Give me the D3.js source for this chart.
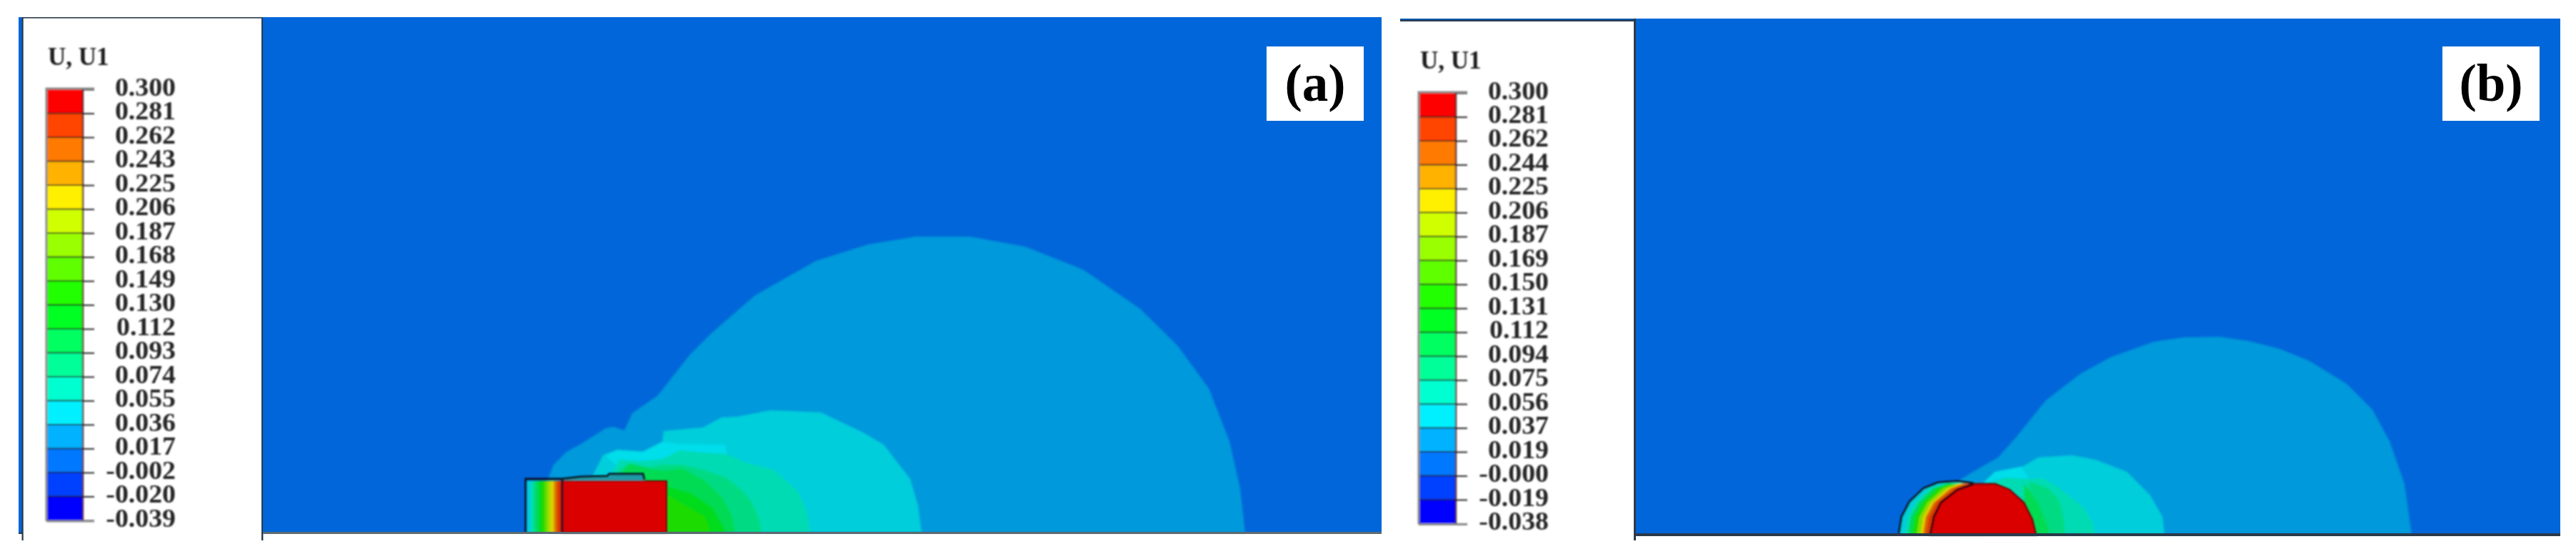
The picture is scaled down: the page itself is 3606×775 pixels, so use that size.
<!DOCTYPE html>
<html>
<head>
<meta charset="utf-8">
<script src="https://cdn.jsdelivr.net/npm/d3@7"></script>
<style>
    html, body { margin: 0; padding: 0; background: #fff; overflow: hidden; }
    svg { display: block; }
    text { font-family: "Liberation Serif", serif; }
</style>
</head>
<body>
<svg id="chart" width="3606" height="775"></svg>
<script>
// --------------------------
// DATA
// --------------------------
const legendTitle = "U, U1";
const labelsA = ["0.300","0.281","0.262","0.243","0.225","0.206","0.187","0.168","0.149","0.130","0.112","0.093","0.074","0.055","0.036","0.017","-0.002","-0.020","-0.039"];
const labelsB = ["0.300","0.281","0.262","0.244","0.225","0.206","0.187","0.169","0.150","0.131","0.112","0.094","0.075","0.056","0.037","0.019","-0.000","-0.019","-0.038"];
const spectrum = ["#ff0000","#ff4500","#ff7a00","#ffb200","#fff000","#d0ff00","#9aff00","#60ff00","#20ff00","#00ff20","#00ff60","#00ff98","#00ffd0","#00f0ff","#00b2ff","#0078ff","#0040ff","#0000ff"];

// contours: displacement level + outline, [distance along surface, height]
const contoursA = [
    { value: 0.027, pts: [[399,75],[407,95],[425,113],[447,125],[480,146],[491,148],[506,143],[517,167],[553,192],[597,248],[627,278],[689,332],[774,380],[847,403],[913,414],[990,414],[1067,400],[1148,368],[1228,313],[1280,262],[1324,202],[1353,128],[1368,62],[1375,0]] },
    { value: 0.045, pts: [[462,80],[476,108],[496,116],[531,113],[559,125],[561,142],[616,147],[642,161],[664,162],[711,171],[781,168],[840,140],[869,123],[906,75],[917,38],[922,0]] },
    { value: 0.065, pts: [[489,83],[499,102],[532,100],[559,103],[584,115],[615,112],[649,110],[675,98],[715,88],[749,58],[762,28],[766,0]] },
    { value: 0.085, pts: [[499,88],[512,97],[539,92],[562,95],[587,95],[615,88],[649,77],[672,58],[685,42],[695,18],[698,0]] },
    { value: 0.10,  pts: [[505,88],[515,96],[545,88],[565,87],[587,90],[619,72],[644,48],[657,22],[661,0]] },
    { value: 0.12,  pts: [[565,65],[599,55],[629,35],[649,0]] },
    { value: 0.14,  pts: [[565,53],[592,38],[619,22],[627,0]] }
];
const brightPatchA = [[479,108],[497,115],[532,113],[559,127],[584,124],[647,123],[650,108],[600,90],[500,90]];

const contoursB = [
    { value: 0.027, pts: [[452,76],[477,91],[507,108],[531,135],[574,188],[622,225],[664,248],[725,270],[767,276],[816,277],[858,271],[901,260],[943,243],[995,211],[1031,175],[1055,131],[1076,71],[1086,0]] },
    { value: 0.045, pts: [[487,73],[503,88],[543,96],[563,108],[610,111],[643,105],[687,88],[720,55],[737,25],[740,0]] },
    { value: 0.065, pts: [[497,71],[517,80],[550,78],[570,79],[593,65],[627,38],[640,15],[643,0]] },
    { value: 0.085, pts: [[550,75],[577,65],[593,48],[599,21],[601,0]] },
    { value: 0.10,  pts: [[543,72],[563,45],[577,11],[578,0]] }
];
const brightPatchB = [[487,73],[503,88],[540,95],[550,78],[517,80]];

// panel (a) block: left part is a stack of narrow bands, right part is the saturated block
const stripA = [[370,0.045],[375,0.065],[379,0.085],[382,0.10],[387,0.12],[390,0.14],[394,0.16],[397,0.18],[400,0.195],[403,0.215],[407,0.235],[409,0.25],[412,0.27],[416,0.29]];
const stripEndA = 419;
const blockA = { x0: 419, x1: 565, top: 72, value: 0.29 };
const stripOutlineA = [[368,0],[368,75],[419,75]];
const stripDividerA = [[419,0],[419,75]];
const liftedA = [[419,75],[445,78],[482,79],[485,82],[532,82],[534,74]];

// panel (b) dome
const domeOuterB = [[368,0],[372,25],[383,46],[403,65],[423,73],[450,75],[473,72]];
const domeInnerB = [[412,0],[417,25],[427,45],[450,63],[473,71],[503,71],[523,63],[543,45],[555,21],[560,0]];
const domeHeights = [0,25,45,65,72];
const domeBands = [
    { value: 0.045, u: [370,374,385,405,428] },
    { value: 0.065, u: [376,380,391,411,433] },
    { value: 0.10,  u: [381,385,396,416,438] },
    { value: 0.14,  u: [387,391,402,423,443] },
    { value: 0.18,  u: [393,397,408,430,450] },
    { value: 0.215, u: [398,402,413,436,455] },
    { value: 0.25,  u: [402,406,417,441,460] },
    { value: 0.27,  u: [406,410,421,446,465] }
];

// --------------------------
// SETUP
// --------------------------
const svg = d3.select("#chart");
const defs = svg.append("defs");
[["soft", 0.9], ["softer", 1.6]].forEach(([id, dev]) => {
    defs.append("filter").attr("id", id)
        .attr("x", "-5%").attr("y", "-5%").attr("width", "110%").attr("height", "110%")
        .append("feGaussianBlur").attr("stdDeviation", dev);
});

const LINE_DARK = "#2b3a4a";
const BLOCK_EDGE = "#7a0000";
const SHADE = 0.86; // the contour plot is lit, so colours are darker than on the legend

// band colour from a displacement value, thresholds are the legend ticks
const bandColor = d3.scaleThreshold()
    .domain(labelsA.map(Number).slice().reverse().slice(1, -1))
    .range(spectrum.slice().reverse());

function lit(value, shade = SHADE) {
    const c = d3.rgb(bandColor(value));
    return d3.rgb(c.r * shade, c.g * shade, c.b * shade).formatHex();
}

// --------------------------
// LEGEND
// --------------------------
function drawLegend(labels, barX0, barX1, barTop, barBottom, titleY) {
    const g = svg.append("g").attr("filter", "url(#soft)");
    const y = d3.scalePoint().domain(labels).range([barTop, barBottom]);

    g.append("text")
        .attr("x", barX0 + 1).attr("y", titleY)
        .attr("font-size", 35).attr("font-weight", "bold").attr("fill", "#1c1c1c")
        .text(legendTitle);

    g.selectAll("rect.band")
        .data(spectrum)
        .enter().append("rect")
        .attr("class", "band")
        .attr("x", barX0).attr("width", barX1 - barX0)
        .attr("y", (d, i) => y(labels[i]))
        .attr("height", (d, i) => y(labels[i + 1]) - y(labels[i]))
        .attr("fill", d => d);

    const axis = g.append("g")
        .attr("transform", `translate(${barX1},0)`)
        .call(d3.axisRight(y).tickSize(17).tickPadding(0));
    axis.select(".domain").remove();
    axis.selectAll("line").attr("stroke", "#3d3d3d").attr("stroke-width", 2.2);
    // the labels in the original are slightly stretched sideways
    axis.selectAll("text")
        .attr("x", 131).attr("dy", 8)
        .attr("text-anchor", "end")
        .attr("font-family", '"Liberation Serif", serif')
        .attr("font-size", 35).attr("font-weight", "bold").attr("fill", "#262626")
        .each(function () {
            d3.select(this)
                .attr("textLength", this.getComputedTextLength() * 1.08)
                .attr("lengthAdjust", "spacingAndGlyphs");
        });

    // separators and outline of the bar
    g.selectAll("line.sep")
        .data(labels.slice(1, -1))
        .enter().append("line")
        .attr("class", "sep")
        .attr("x1", barX0).attr("x2", barX1)
        .attr("y1", d => y(d)).attr("y2", d => y(d))
        .attr("stroke", "#1a1a1a").attr("stroke-opacity", 0.75).attr("stroke-width", 2);
    g.append("path")
        .attr("d", `M${barX0 - 1},${barBottom + 1}V${barTop - 1}H${barX1 + 17}`)
        .attr("fill", "none").attr("stroke", "#8a8a8a").attr("stroke-width", 3);
    g.append("path")
        .attr("d", `M${barX0 - 1},${barBottom + 1}H${barX1 + 17}`)
        .attr("fill", "none").attr("stroke", "#8a8a8a").attr("stroke-width", 3);
    g.append("line")
        .attr("x1", barX1 + 1).attr("x2", barX1 + 1).attr("y1", barTop).attr("y2", barBottom)
        .attr("stroke", "#3a0a0a").attr("stroke-opacity", 0.85).attr("stroke-width", 2.4);
}

// --------------------------
// PANEL HELPERS
// --------------------------
function makePanel(left, right, top, base) {
    const x = d3.scaleLinear().domain([0, right - left]).range([left, right]);
    const y = d3.scaleLinear().domain([0, base - top]).range([base, top]);
    const line = d3.line().x(d => x(d[0])).y(d => y(d[1]));
    const g = svg.append("g");
    g.append("rect")
        .attr("x", left).attr("y", top)
        .attr("width", right - left).attr("height", base - top)
        .attr("fill", "#0066d9");
    return { x, y, line, g };
}

function drawContours(p, contours, patch) {
    const layer = p.g.append("g").attr("filter", "url(#softer)");
    contours.forEach((c, i) => {
        const pts = [[c.pts[0][0], 0], ...c.pts, [c.pts[c.pts.length - 1][0], 0]];
        layer.append("path")
            .attr("d", p.line(pts) + "Z")
            .attr("fill", lit(c.value));
        if (i === 1) {
            layer.append("path")
                .attr("d", p.line(patch) + "Z")
                .attr("fill", lit(c.value, 0.92));
        }
    });
    return p.g.append("g").attr("filter", "url(#soft)");
}

function drawTag(text, x0, x1, fontSize) {
    svg.append("rect")
        .attr("x", x0).attr("y", 65)
        .attr("width", x1 - x0).attr("height", 104)
        .attr("fill", "#fff");
    svg.append("text")
        .attr("x", (x0 + x1) / 2).attr("y", 141)
        .attr("text-anchor", "middle")
        .attr("font-size", fontSize).attr("font-weight", "bold").attr("fill", "#000")
        .text(text);
}

// --------------------------
// PANEL (a)
// --------------------------
function drawPanelA() {
    const left = 368, right = 1934, top = 24, base = 745;

    svg.append("rect").attr("x", 26).attr("y", top).attr("width", 6).attr("height", base - top).attr("fill", "#0066d9");
    svg.append("rect").attr("x", 31).attr("y", top).attr("width", left - 31).attr("height", 1.6).attr("fill", LINE_DARK);
    svg.append("rect").attr("x", 26).attr("y", base).attr("width", 6).attr("height", 2).attr("fill", LINE_DARK);
    svg.append("rect").attr("x", 30.5).attr("y", top).attr("width", 2.2).attr("height", 756 - top).attr("fill", LINE_DARK);
    svg.append("rect").attr("x", 366).attr("y", top).attr("width", 2.4).attr("height", 756 - top).attr("fill", LINE_DARK);

    const p = makePanel(left, right, top, base);
    const layer = drawContours(p, contoursA, brightPatchA);

    // raised material above the block
    layer.append("path")
        .attr("d", p.line([[419,0], ...liftedA, [534,0]]) + "Z")
        .attr("fill", "#1f9aa8");

    // narrow bands of the sheared part
    stripA.forEach((d, i) => {
        const u1 = i < stripA.length - 1 ? stripA[i + 1][0] : stripEndA;
        layer.append("rect")
            .attr("x", p.x(d[0])).attr("width", p.x(u1) - p.x(d[0]) + 0.5)
            .attr("y", p.y(blockA.top)).attr("height", p.y(0) - p.y(blockA.top))
            .attr("fill", lit(d[1]));
    });

    layer.append("rect")
        .attr("x", p.x(blockA.x0)).attr("width", p.x(blockA.x1) - p.x(blockA.x0))
        .attr("y", p.y(blockA.top)).attr("height", p.y(0) - p.y(blockA.top))
        .attr("fill", lit(blockA.value))
        .attr("stroke", BLOCK_EDGE).attr("stroke-width", 2);

    [stripOutlineA, stripDividerA, liftedA].forEach(pts => {
        layer.append("path")
            .attr("d", p.line(pts))
            .attr("fill", "none").attr("stroke", "#0c1420").attr("stroke-width", 3);
    });

    svg.append("rect").attr("x", left).attr("y", base - 1).attr("width", right - left).attr("height", 3).attr("fill", "#5d6b70");
}

// --------------------------
// PANEL (b)
// --------------------------
function drawPanelB() {
    const left = 2290, right = 3584, top = 26, base = 748;

    svg.append("rect").attr("x", 1960).attr("y", top).attr("width", left - 1960).attr("height", 2).attr("fill", "#0b57ad");
    svg.append("rect").attr("x", 1960).attr("y", top + 2).attr("width", left - 1960).attr("height", 2).attr("fill", LINE_DARK);
    svg.append("rect").attr("x", 2287).attr("y", top).attr("width", 3).attr("height", 756 - top).attr("fill", LINE_DARK);

    const p = makePanel(left, right, top, base);
    const layer = drawContours(p, contoursB, brightPatchB);

    layer.append("path")
        .attr("d", p.line(domeOuterB) + "Z")
        .attr("fill", lit(0.045));

    domeBands.forEach(b => {
        const edge = b.u.map((u, i) => [u, domeHeights[i]]);
        layer.append("path")
            .attr("d", p.line([...edge, [500,60], [500,0]]) + "Z")
            .attr("fill", lit(b.value));
    });

    layer.append("path")
        .attr("d", p.line(domeInnerB) + "Z")
        .attr("fill", lit(0.29))
        .attr("stroke", BLOCK_EDGE).attr("stroke-width", 2.4);

    layer.append("path")
        .attr("d", p.line(domeInnerB.slice(0, 5)))
        .attr("fill", "none").attr("stroke", "#24060a").attr("stroke-width", 3);
    layer.append("path")
        .attr("d", p.line(domeOuterB))
        .attr("fill", "none").attr("stroke", "#0c1420").attr("stroke-width", 3);

    svg.append("rect").attr("x", left).attr("y", base - 2).attr("width", right - left).attr("height", 4).attr("fill", "#2b3a4a");
}

drawPanelA();
drawPanelB();
drawLegend(labelsA, 66, 115, 125, 728, 91);
drawLegend(labelsB, 1987, 2037, 130, 732.5, 96);
drawTag("(a)", 1773, 1909, 73);
drawTag("(b)", 3419, 3555, 73);
</script>
</body>
</html>
